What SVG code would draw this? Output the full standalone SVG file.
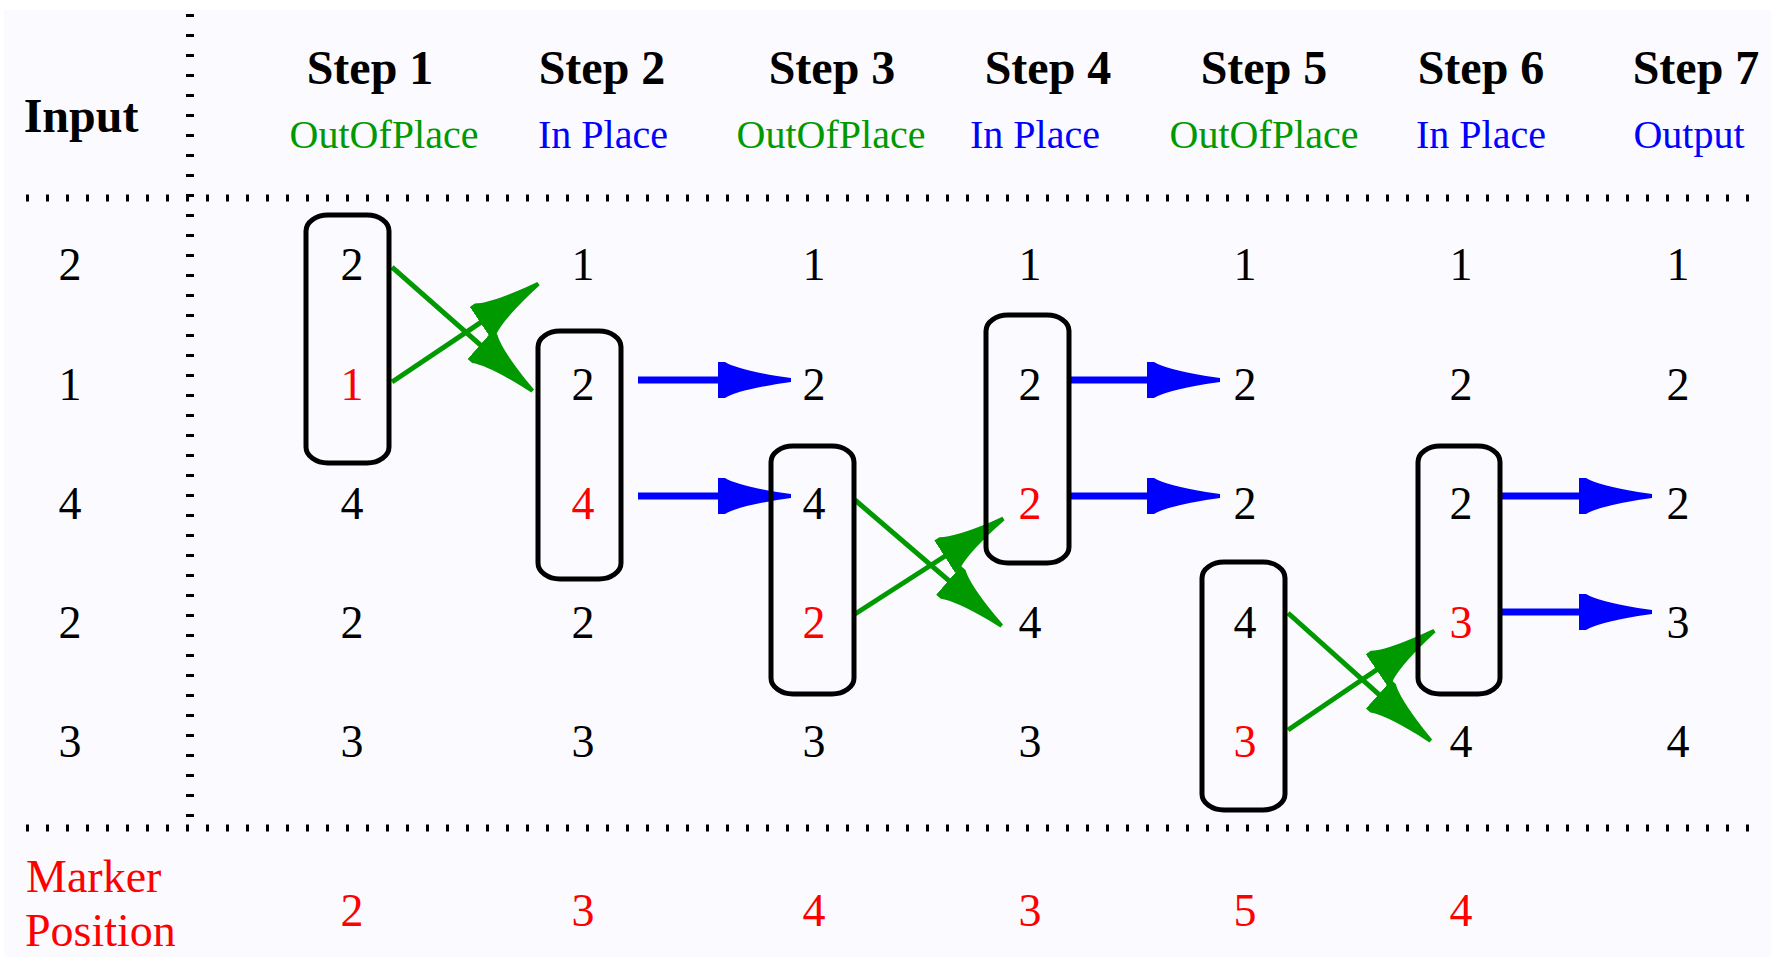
<svg xmlns="http://www.w3.org/2000/svg" width="1771" height="957" viewBox="0 0 1771 957">
<style>
.n{font-family:"Liberation Serif",serif;font-size:46px;text-anchor:middle;fill:#000}
.r{fill:#FF0000}
.h{font-family:"Liberation Serif",serif;font-size:48px;font-weight:bold;text-anchor:middle;fill:#000}
.s{font-family:"Liberation Serif",serif;font-size:40px;text-anchor:middle}
.g{fill:#009900}
.b{fill:#0000FF}
.m{font-family:"Liberation Serif",serif;font-size:46px;fill:#FF0000}
.box{fill:none;stroke:#000;stroke-width:5}
.dot{stroke:#000;fill:none}
.bl{stroke:#0000FF;stroke-width:7;fill:none;marker-end:url(#ab)}
.gl{stroke:#009900;stroke-width:5;fill:none;marker-end:url(#ag)}
</style>
<defs>
<marker id="ab" markerUnits="userSpaceOnUse" markerWidth="80" markerHeight="44" viewBox="0 -22 80 44" refX="10" refY="0" orient="auto">
<path d="M0,-18 L7,-18 Q18,-11 59,-4 L73,-2 L73,2 L59,4 Q18,11 7,18 L0,18 Z" fill="#0000FF"/>
</marker>
<marker id="ag" markerUnits="userSpaceOnUse" markerWidth="80" markerHeight="44" viewBox="0 -22 80 44" refX="10" refY="0" orient="auto">
<path d="M0,-19 L6,-19 Q18,-11 57,-4 L70,-2 L70,2 L57,4 Q18,11 6,19 L0,19 Z" fill="#009900"/>
</marker>
</defs>
<rect x="0" y="0" width="1771" height="957" fill="#FFFFFF"/>
<rect x="4" y="10" width="1767" height="947" fill="#FBFBFF"/>
<g id="grid">
<line class="dot" x1="26" y1="198" x2="1762" y2="198" stroke-width="7" stroke-dasharray="3 17"/>
<line class="dot" x1="26" y1="828" x2="1762" y2="828" stroke-width="7" stroke-dasharray="3 17"/>
<line class="dot" x1="190" y1="14" x2="190" y2="817" stroke-width="8" stroke-dasharray="3 17"/>
</g>
<g id="connectors">
<line class="gl" x1="392" y1="267" x2="487.7" y2="351.4"/>
<line class="gl" x1="392" y1="382" x2="488.7" y2="317.1"/>
<line class="bl" x1="638" y1="380" x2="728" y2="380"/>
<line class="bl" x1="638" y1="496" x2="728" y2="496"/>
<line class="gl" x1="855" y1="500" x2="956.2" y2="586.9"/>
<line class="gl" x1="855" y1="614" x2="953" y2="551"/>
<line class="bl" x1="1070" y1="380" x2="1157" y2="380"/>
<line class="bl" x1="1070" y1="496" x2="1157" y2="496"/>
<line class="gl" x1="1288" y1="613" x2="1386.1" y2="700.9"/>
<line class="gl" x1="1288" y1="730" x2="1384.8" y2="664.3"/>
<line class="bl" x1="1502" y1="496" x2="1589" y2="496"/>
<line class="bl" x1="1502" y1="612" x2="1589" y2="612"/>
</g>
<g id="col-input">
<text class="h" x="81" y="132">Input</text>
<text class="n" x="70" y="280">2</text>
<text class="n" x="70" y="400">1</text>
<text class="n" x="70" y="519">4</text>
<text class="n" x="70" y="638">2</text>
<text class="n" x="70" y="757">3</text>
</g>
<g id="step1">
<text class="h" x="370" y="84">Step 1</text>
<text class="s g" x="384" y="148">OutOfPlace</text>
<rect class="box" x="306" y="215" width="83" height="248" rx="22" ry="16"/>
<text class="n" x="352" y="280">2</text>
<text class="n r" x="352" y="400">1</text>
<text class="n" x="352" y="519">4</text>
<text class="n" x="352" y="638">2</text>
<text class="n" x="352" y="757">3</text>
<text class="n r" x="352" y="926">2</text>
</g>
<g id="step2">
<text class="h" x="602" y="84">Step 2</text>
<text class="s b" x="603" y="148">In Place</text>
<rect class="box" x="538" y="331" width="83" height="248" rx="22" ry="16"/>
<text class="n" x="583" y="280">1</text>
<text class="n" x="583" y="400">2</text>
<text class="n r" x="583" y="519">4</text>
<text class="n" x="583" y="638">2</text>
<text class="n" x="583" y="757">3</text>
<text class="n r" x="583" y="926">3</text>
</g>
<g id="step3">
<text class="h" x="832" y="84">Step 3</text>
<text class="s g" x="831" y="148">OutOfPlace</text>
<rect class="box" x="771" y="446" width="83" height="248" rx="22" ry="16"/>
<text class="n" x="814" y="280">1</text>
<text class="n" x="814" y="400">2</text>
<text class="n" x="814" y="519">4</text>
<text class="n r" x="814" y="638">2</text>
<text class="n" x="814" y="757">3</text>
<text class="n r" x="814" y="926">4</text>
</g>
<g id="step4">
<text class="h" x="1048" y="84">Step 4</text>
<text class="s b" x="1035" y="148">In Place</text>
<rect class="box" x="986" y="315" width="83" height="248" rx="22" ry="16"/>
<text class="n" x="1030" y="280">1</text>
<text class="n" x="1030" y="400">2</text>
<text class="n r" x="1030" y="519">2</text>
<text class="n" x="1030" y="638">4</text>
<text class="n" x="1030" y="757">3</text>
<text class="n r" x="1030" y="926">3</text>
</g>
<g id="step5">
<text class="h" x="1264" y="84">Step 5</text>
<text class="s g" x="1264" y="148">OutOfPlace</text>
<rect class="box" x="1202" y="562" width="83" height="248" rx="22" ry="16"/>
<text class="n" x="1245" y="280">1</text>
<text class="n" x="1245" y="400">2</text>
<text class="n" x="1245" y="519">2</text>
<text class="n" x="1245" y="638">4</text>
<text class="n r" x="1245" y="757">3</text>
<text class="n r" x="1245" y="926">5</text>
</g>
<g id="step6">
<text class="h" x="1481" y="84">Step 6</text>
<text class="s b" x="1481" y="148">In Place</text>
<rect class="box" x="1418" y="446" width="82" height="248" rx="22" ry="16"/>
<text class="n" x="1461" y="280">1</text>
<text class="n" x="1461" y="400">2</text>
<text class="n" x="1461" y="519">2</text>
<text class="n r" x="1461" y="638">3</text>
<text class="n" x="1461" y="757">4</text>
<text class="n r" x="1461" y="926">4</text>
</g>
<g id="step7">
<text class="h" x="1696" y="84">Step 7</text>
<text class="s b" x="1689" y="148">Output</text>
<text class="n" x="1678" y="280">1</text>
<text class="n" x="1678" y="400">2</text>
<text class="n" x="1678" y="519">2</text>
<text class="n" x="1678" y="638">3</text>
<text class="n" x="1678" y="757">4</text>
</g>
<g id="marker-label">
<text class="m" x="26" y="892">Marker</text>
<text class="m" x="25" y="946">Position</text>
</g>
</svg>
